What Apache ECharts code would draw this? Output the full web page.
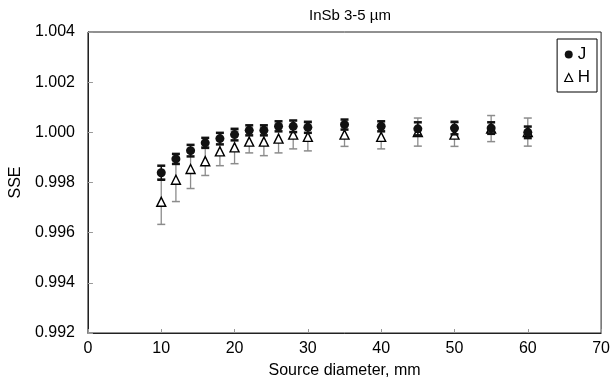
<!DOCTYPE html>
<html>
<head>
<meta charset="utf-8">
<script src="https://cdn.jsdelivr.net/npm/echarts@6/dist/echarts.min.js"></script>
<style>html,body{margin:0;padding:0;background:#fff}#c{width:613px;height:384px}</style>
</head>
<body>
<div id="c"></div>
<script>
var diameters = [10, 12, 14, 16, 18, 20, 22, 24, 26, 28, 30, 35, 40, 45, 50, 55, 60];
var jValues = [0.99839, 0.99894, 0.99927, 0.99958, 0.99975, 0.99991, 1.00008, 1.00008, 1.00024, 1.00024, 1.00020, 1.00031, 1.00024, 1.00014, 1.00017, 1.00017, 1.00000];
var jErr    = [0.00028, 0.00020, 0.00023, 0.00020, 0.00023, 0.00023, 0.00020, 0.00020, 0.00020, 0.00023, 0.00022, 0.00020, 0.00020, 0.00026, 0.00025, 0.00023, 0.00023];
var hValues = [0.99723, 0.99811, 0.99854, 0.99885, 0.99924, 0.99940, 0.99963, 0.99963, 0.99975, 0.99991, 0.99982, 0.99991, 0.99982, 1.00001, 0.99991, 1.00015, 1.00001];
var hErr    = [0.00090, 0.00087, 0.00078, 0.00057, 0.00057, 0.00065, 0.00045, 0.00056, 0.00057, 0.00057, 0.00056, 0.00047, 0.00048, 0.00056, 0.00047, 0.00052, 0.00056];
var yTicks = [0.992, 0.994, 0.996, 0.998, 1.000, 1.002, 1.004];

function pts(vals){ return diameters.map(function(x,i){ return [x, vals[i]]; }); }
function errs(vals, e){ return diameters.map(function(x,i){ return [x, vals[i]-e[i], vals[i]+e[i]]; }); }

function errRender(color, lw, capW, capLw){
  return function(params, api){
    var x = api.value(0);
    var lo = api.coord([x, api.value(1)]);
    var hi = api.coord([x, api.value(2)]);
    var h = capW/2;
    return {type:'group', children:[
      {type:'line', shape:{x1:lo[0],y1:lo[1],x2:hi[0],y2:hi[1]}, style:{stroke:color,lineWidth:lw}},
      {type:'line', shape:{x1:lo[0]-h,y1:lo[1],x2:lo[0]+h,y2:lo[1]}, style:{stroke:color,lineWidth:capLw}},
      {type:'line', shape:{x1:hi[0]-h,y1:hi[1],x2:hi[0]+h,y2:hi[1]}, style:{stroke:color,lineWidth:capLw}}
    ]};
  };
}

var chart = echarts.init(document.getElementById('c'), null, {renderer:'canvas'});
var font = 'Liberation Sans, Arial, sans-serif';
chart.setOption({
  animation: false,
  textStyle: {fontFamily: font},
  title: {text: 'InSb 3-5 µm', left: 345, top: 3, textAlign: 'center',
    textStyle: {fontSize: 15, fontWeight: 'normal', color: '#000', fontFamily: font}},
  grid: {left: 87, right: 10, top: 32, bottom: 50, show: true, borderColor: '#222', borderWidth: 1},
  legend: {
    orient: 'vertical', right: 16, top: 39,
    borderColor: '#000', borderWidth: 1, padding: [7, 7, 6, 7], itemGap: 6,
    itemWidth: 8, itemHeight: 8,
    textStyle: {fontSize: 17, color: '#000', fontFamily: font},
    data: [
      {name: 'J', icon: 'circle'},
      {name: 'H', icon: 'triangle', itemStyle: {color: '#fff', borderColor: '#000', borderWidth: 1.2}}
    ]
  },
  xAxis: {
    type: 'value', min: 0, max: 70, interval: 10,
    name: 'Source diameter, mm', nameLocation: 'middle', nameGap: 30,
    nameTextStyle: {fontSize: 16, color: '#000', fontFamily: font},
    axisLine: {lineStyle: {color: '#222', width: 1}},
    axisTick: {inside: true, length: 4, lineStyle: {color: '#999'}},
    axisLabel: {fontSize: 16, color: '#000', margin: 8, fontFamily: font},
    splitLine: {show: false}
  },
  yAxis: {
    type: 'value', min: 0.992, max: 1.004, interval: 0.002,
    name: 'SSE', nameLocation: 'middle', nameGap: 62,
    nameTextStyle: {fontSize: 16, color: '#000', fontFamily: font},
    axisLine: {show: true, lineStyle: {color: '#222', width: 1}},
    axisTick: {inside: true, length: 5, lineStyle: {color: '#999'}},
    axisLabel: {fontSize: 16, color: '#000', margin: 13, fontFamily: font,
      formatter: function(v){ return v.toFixed(3); }},
    splitLine: {show: false}
  },
  series: [
    {type: 'custom', name: 'Herr', z: 1, renderItem: errRender('#8c8c8c', 1.3, 8, 1.5),
      data: errs(hValues, hErr), encode: {x: 0, y: [1, 2]}, silent: true},
    {type: 'scatter', name: 'H', z: 2, symbol: 'triangle', symbolSize: 9,
      itemStyle: {color: '#fff', borderColor: '#000', borderWidth: 1.4, opacity: 1},
      data: pts(hValues)},
    {type: 'custom', name: 'Jerr', z: 3, renderItem: errRender('#111', 1.5, 8, 2.5),
      data: errs(jValues, jErr), encode: {x: 0, y: [1, 2]}, silent: true},
    {type: 'scatter', name: 'J', z: 4, symbol: 'circle', symbolSize: 9,
      itemStyle: {color: '#111', opacity: 1},
      data: pts(jValues)}
  ]
});
</script>
</body>
</html>
